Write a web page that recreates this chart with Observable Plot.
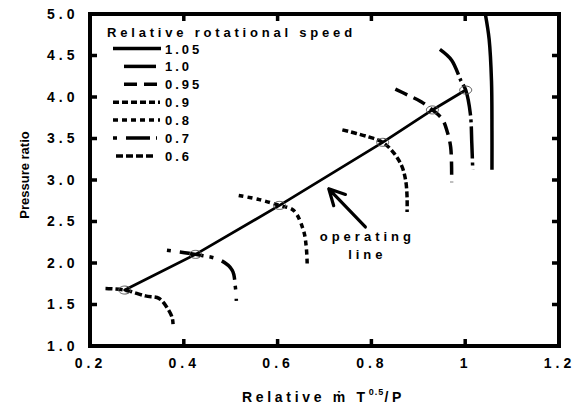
<!DOCTYPE html>
<html><head><meta charset="utf-8">
<script src="https://cdn.jsdelivr.net/npm/d3@7"></script>
<script src="https://cdn.jsdelivr.net/npm/@observablehq/plot@0.6"></script>
</head><body style="margin:0;background:#fff"><div id="chart"></div>
<script>
// ---- data ----
const speedLabels = ["1.05", "1.0", "0.95", "0.9", "0.8", "0.7", "0.6"];

const s105X = [1.042, 1.050, 1.055, 1.056, 1.056];
const s105Y = [5.00, 4.70, 4.20, 3.60, 3.13];

const s100X = [0.945, 0.970, 0.990, 1.000, 1.010, 1.013, 1.015];
const s100Y = [4.58, 4.45, 4.20, 4.09, 3.80, 3.45, 3.13];

const s095X = [0.850, 0.880, 0.905, 0.929, 0.950, 0.960, 0.968, 0.970];
const s095Y = [4.10, 4.02, 3.95, 3.85, 3.74, 3.60, 3.40, 2.98];

const s090X = [0.737, 0.790, 0.823, 0.847, 0.864, 0.872, 0.875, 0.875];
const s090Y = [3.61, 3.53, 3.46, 3.33, 3.17, 3.00, 2.80, 2.62];

const s080X = [0.516, 0.560, 0.603, 0.633, 0.654, 0.660, 0.662];
const s080Y = [2.82, 2.77, 2.70, 2.64, 2.40, 2.20, 2.00];

const s070X = [0.363, 0.424, 0.477, 0.502, 0.509, 0.511];
const s070Y = [2.16, 2.11, 2.04, 1.92, 1.71, 1.55];

const s060X = [0.232, 0.273, 0.317, 0.346, 0.363, 0.374, 0.376];
const s060Y = [1.70, 1.68, 1.61, 1.58, 1.47, 1.35, 1.27];

const opX = [0.273, 0.424, 0.603, 0.823, 0.929, 1.000];
const opY = [1.68, 2.11, 2.70, 3.46, 3.85, 4.09];

const arrowFrom = [0.786, 2.44];
const arrowTo = [0.708, 2.90];
const annotation = "operating\nline";
const annotationAt = [0.786, 2.23];

const xTicks = [0.2, 0.4, 0.6, 0.8, 1.0, 1.2];
const xTickLabels = ["0.2", "0.4", "0.6", "0.8", "1", "1.2"];
const yTicks = [1.0, 1.5, 2.0, 2.5, 3.0, 3.5, 4.0, 4.5, 5.0];
const yTickLabels = ["1.0", "1.5", "2.0", "2.5", "3.0", "3.5", "4.0", "4.5", "5.0"];

const legendTitle = "Relative rotational speed";
const yLabel = "Pressure ratio";

// ---- styles ----
const dashes = ["none", "32,4,3,4", "13,7", "6,3", "5,4", "4,9,24,6", "7,3"];
const legendStart = [113, 124, 124, 113, 113, 113, 116];
const legendEnd = [161, 160, 160, 160, 160, 157, 153];

const seriesX = [s105X, s100X, s095X, s090X, s080X, s070X, s060X];
const seriesY = [s105Y, s100Y, s095Y, s090Y, s080Y, s070Y, s060Y];

const W = 587, H = 410;
const mL = 90, mR = 28, mT = 14, mB = 64;
const plotW = W - mL - mR, plotH = H - mT - mB;
const tickLen = 7;
const FONT = '"Liberation Sans", Arial, sans-serif';

const rows = (xs, ys) => xs.map((x, i) => ({x, y: ys[i]}));
const xFmt = new Map(xTicks.map((d, i) => [d, xTickLabels[i]]));
const yFmt = new Map(yTicks.map((d, i) => [d, yTickLabels[i]]));

// ellipse symbol for the operating points
const ellipse = {
  draw(ctx, size) {
    const rx = 6, ry = 4, k = 0.5523;
    ctx.moveTo(rx, 0);
    ctx.bezierCurveTo(rx, ry * k, rx * k, ry, 0, ry);
    ctx.bezierCurveTo(-rx * k, ry, -rx, ry * k, -rx, 0);
    ctx.bezierCurveTo(-rx, -ry * k, -rx * k, -ry, 0, -ry);
    ctx.bezierCurveTo(rx * k, -ry, rx, -ry * k, rx, 0);
    ctx.closePath();
  }
};

const curveMarks = speedLabels.map((s, i) =>
  Plot.line(rows(seriesX[i], seriesY[i]), {
    x: "x", y: "y", curve: "catmull-rom", stroke: "#000",
    strokeWidth: 3.5, strokeDasharray: dashes[i], strokeLinecap: "butt"
  })
);

const plot = Plot.plot({
  width: W, height: H,
  marginLeft: mL, marginRight: mR, marginTop: mT, marginBottom: mB,
  x: {domain: [0.2, 1.2]},
  y: {domain: [1, 5]},
  style: {fontFamily: FONT, fontWeight: "bold", color: "#000", background: "#fff"},
  marks: [
    Plot.axisX(xTicks, {tickSize: 0, tickPadding: 12, fontSize: 14, tickFormat: d => xFmt.get(d), label: null}),
    Plot.axisY(yTicks, {tickSize: 0, tickPadding: 12, fontSize: 14, tickFormat: d => yFmt.get(d), label: null}),
    ...curveMarks,
    Plot.line(rows(opX, opY), {x: "x", y: "y", stroke: "#000", strokeWidth: 2.8}),
    Plot.dot(rows(opX, opY), {x: "x", y: "y", symbol: ellipse, r: 5, stroke: "#555", strokeWidth: 1, fill: "none"}),
    Plot.arrow([0], {x1: () => arrowFrom[0], y1: () => arrowFrom[1], x2: () => arrowTo[0], y2: () => arrowTo[1],
      stroke: "#000", strokeWidth: 3.2, headLength: 14, headAngle: 55}),
    Plot.text([annotation], {x: () => annotationAt[0], y: () => annotationAt[1], text: d => d,
      fontSize: 13, fontWeight: "bold", lineHeight: 1.38, dx: 2})
  ]
});

document.getElementById("chart").appendChild(plot);

const svg = d3.select(plot);
svg.selectAll('g[aria-label="x-axis tick label"] text, g[aria-label="y-axis tick label"] text, g[aria-label="text"] text')
  .style("letter-spacing", "4px");

// ---- frame and inward ticks as filled bars, positioned from the plot's own scales ----
const sxo = plot.scale("x"), syo = plot.scale("y");
const fx = d3.scaleLinear(sxo.domain, sxo.range);
const fy = d3.scaleLinear(syo.domain, syo.range);
const fr = svg.append("g").attr("fill", "#000").attr("stroke", "none");
const xa = fx(0.2), xb = fx(1.2), ya = fy(1), yb = fy(5);
const bar = (x, y, w, h) => fr.append("rect").attr("x", x).attr("y", y).attr("width", w).attr("height", h).attr("fill", "#000");
xTicks.forEach(v => { const p = fx(v); bar(p - 1.75, ya - tickLen, 3.5, tickLen); bar(p - 1.75, yb, 3.5, tickLen); });
yTicks.forEach(v => { const p = fy(v); bar(xa, p - 1.75, tickLen, 3.5); bar(xb - tickLen, p - 1.75, tickLen, 3.5); });
bar(xa - 2, yb - 2, xb - xa + 4, 4);
bar(xa - 2, ya - 2, xb - xa + 4, 4);
bar(xa - 2, yb - 2, 4, ya - yb + 4);
bar(xb - 2, yb - 2, 4, ya - yb + 4);

// ---- axis titles and in-plot legend ----
svg.append("text")
  .attr("transform", `translate(29,${mT + plotH / 2 - 5}) rotate(-90)`)
  .attr("text-anchor", "middle").attr("font-family", FONT)
  .attr("font-size", 13).attr("font-weight", "bold")
  .text(yLabel);

const xl = svg.append("text")
  .attr("x", mL + plotW / 2 - 1).attr("y", 402)
  .attr("text-anchor", "middle").attr("font-family", FONT)
  .attr("font-size", 14).attr("font-weight", "bold")
  .style("letter-spacing", "3.7px");
xl.append("tspan").text("Relative ṁ T");
xl.append("tspan").attr("dy", -7).attr("font-size", 9).style("letter-spacing", "1px").text("0.5");
xl.append("tspan").attr("dy", 7).text("/P");

const lg = svg.append("g").attr("font-weight", "bold").attr("text-anchor", "start").attr("font-family", FONT);
lg.append("text").attr("x", 107).attr("y", 37).attr("font-size", 13)
  .style("letter-spacing", "3.8px").text(legendTitle);
speedLabels.forEach((s, i) => {
  const cy = 48.5 + i * 17.9;
  lg.append("line").attr("x1", legendStart[i]).attr("x2", legendEnd[i])
    .attr("y1", cy).attr("y2", cy)
    .attr("stroke", "#000").attr("stroke-width", 3.5)
    .attr("stroke-dasharray", dashes[i]);
  lg.append("text").attr("x", 165).attr("y", cy + 5).attr("font-size", 13)
    .style("letter-spacing", "3px").text(s);
});
</script>
</body></html>
